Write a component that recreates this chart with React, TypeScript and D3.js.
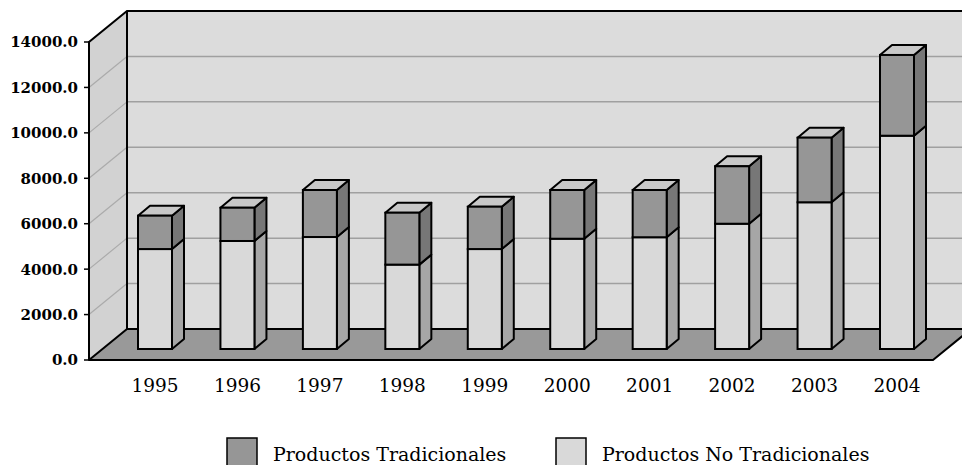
import React, { useRef, useEffect } from "react";
import * as d3 from "d3";

const years = ["1995", "1996", "1997", "1998", "1999", "2000", "2001", "2002", "2003", "2004"];
// bottom segment (light)
const noTradicionales = [4400, 4755, 4930, 3715, 4400, 4855, 4920, 5515, 6460, 9390];
// top segment (dark)
const tradicionales = [1470, 1465, 2070, 2285, 1865, 2145, 2080, 2530, 2845, 3555];
const yTicks = [0, 2000, 4000, 6000, 8000, 10000, 12000, 14000];
const seriesNames = ["Productos Tradicionales", "Productos No Tradicionales"];

const W = 962;
const H = 465;
const DX = 38; // depth of the plot box
const DY = -31;
const BAR_DX = 12; // depth of each bar
const BAR_DY = -10;
const BAR_OFF_DX = 14; // bars sit a bit back from the front plane
const BAR_OFF_DY = -11;
const BAR_W = 34;

const App: React.FC = () => {
  const svgRef = useRef<SVGSVGElement | null>(null);

  useEffect(() => {
    const svg = d3.select(svgRef.current);
    svg.selectAll("*").remove();

    const x0 = 89;
    const x1 = 933;
    const y = d3.scaleLinear().domain([0, 14000]).range([360, 42]);
    const x = d3.scalePoint<string>().domain(years).range([155, 897]);

    const g = svg.append("g");

    // side wall
    g.append("polygon")
      .attr("points", [
        [x0, y(14000)], [x0 + DX, y(14000) + DY], [x0 + DX, y(0) + DY], [x0, y(0)],
      ].map((p) => p.join(",")).join(" "))
      .attr("fill", "#d2d2d2");

    // back wall
    g.append("rect")
      .attr("x", x0 + DX)
      .attr("y", y(14000) + DY)
      .attr("width", W - (x0 + DX) + 20)
      .attr("height", y(0) - y(14000))
      .attr("fill", "#dcdcdc");

    // gridlines
    yTicks.slice(1, -1).forEach((t) => {
      g.append("line")
        .attr("x1", x0).attr("y1", y(t))
        .attr("x2", x0 + DX).attr("y2", y(t) + DY)
        .attr("stroke", "#ababab").attr("stroke-width", 1.2);
      g.append("line")
        .attr("x1", x0 + DX).attr("y1", y(t) + DY)
        .attr("x2", W + 20).attr("y2", y(t) + DY)
        .attr("stroke", "#a0a0a0").attr("stroke-width", 1.5);
    });

    // wall outlines
    g.append("path")
      .attr("d", `M${x0},${y(0)} L${x0},${y(14000)} L${x0 + DX},${y(14000) + DY} L${W + 20},${y(14000) + DY} M${x0 + DX},${y(14000) + DY} L${x0 + DX},${y(0) + DY}`)
      .attr("fill", "none").attr("stroke", "#000").attr("stroke-width", 2);

    // floor
    g.append("polygon")
      .attr("points", [
        [x0, y(0)], [x0 + DX, y(0) + DY], [x1 + DX, y(0) + DY], [x1, y(0)],
      ].map((p) => p.join(",")).join(" "))
      .attr("fill", "#999999").attr("stroke", "#000").attr("stroke-width", 2)
      .attr("stroke-linejoin", "round");

    // ticks and labels
    yTicks.forEach((t) => {
      g.append("line")
        .attr("x1", x0 - 5).attr("x2", x0)
        .attr("y1", y(t)).attr("y2", y(t))
        .attr("stroke", "#000").attr("stroke-width", 1.5);
      g.append("text")
        .attr("x", x0 - 11).attr("y", y(t))
        .attr("dy", "0.36em")
        .attr("text-anchor", "end")
        .attr("font-family", "DejaVu Serif")
        .attr("font-weight", "bold")
        .attr("font-size", 15)
        .text(t.toFixed(1));
    });

    // bars
    const yb = (v: number) => y(v) + BAR_OFF_DY;
    const face = (xl: number, yTop: number, yBot: number, fill: string, side: string, top: string | null) => {
      const xr = xl + BAR_W;
      g.append("polygon")
        .attr("points", [[xr, yBot], [xr + BAR_DX, yBot + BAR_DY], [xr + BAR_DX, yTop + BAR_DY], [xr, yTop]].map((p) => p.join(",")).join(" "))
        .attr("fill", side).attr("stroke", "#000").attr("stroke-width", 2).attr("stroke-linejoin", "round");
      if (top) {
        g.append("polygon")
          .attr("points", [[xl, yTop], [xl + BAR_DX, yTop + BAR_DY], [xr + BAR_DX, yTop + BAR_DY], [xr, yTop]].map((p) => p.join(",")).join(" "))
          .attr("fill", top).attr("stroke", "#000").attr("stroke-width", 2).attr("stroke-linejoin", "round");
      }
      g.append("rect")
        .attr("x", xl).attr("y", yTop)
        .attr("width", BAR_W).attr("height", yBot - yTop)
        .attr("fill", fill).attr("stroke", "#000").attr("stroke-width", 2);
    };

    years.forEach((yr, i) => {
      const xl = (x(yr) as number) - BAR_W / 2;
      const lo = noTradicionales[i];
      const tot = lo + tradicionales[i];
      face(xl, yb(lo), yb(0), "#d9d9d9", "#a6a6a6", null);
      face(xl, yb(tot), yb(lo), "#969696", "#777777", "#c8c8c8");
    });

    // category labels
    years.forEach((yr) => {
      g.append("text")
        .attr("x", x(yr) as number).attr("y", 392)
        .attr("text-anchor", "middle")
        .attr("font-family", "DejaVu Serif")
        .attr("font-size", 18.5)
        .text(yr);
    });

    // legend
    const legendX = [227, 556];
    const legendFill = ["#969696", "#d9d9d9"];
    seriesNames.forEach((name, i) => {
      g.append("rect")
        .attr("x", legendX[i]).attr("y", 438)
        .attr("width", 30).attr("height", 30)
        .attr("fill", legendFill[i]).attr("stroke", "#000").attr("stroke-width", 1.5);
      g.append("text")
        .attr("x", legendX[i] + 46).attr("y", 461)
        .attr("font-family", "DejaVu Serif")
        .attr("font-size", 19)
        .text(name);
    });
  }, []);

  return (
    <div style={{ position: "absolute", left: 0, top: 0 }}>
      <svg ref={svgRef} width={W} height={H} style={{ display: "block", background: "#fff" }} />
    </div>
  );
};

export default App;
